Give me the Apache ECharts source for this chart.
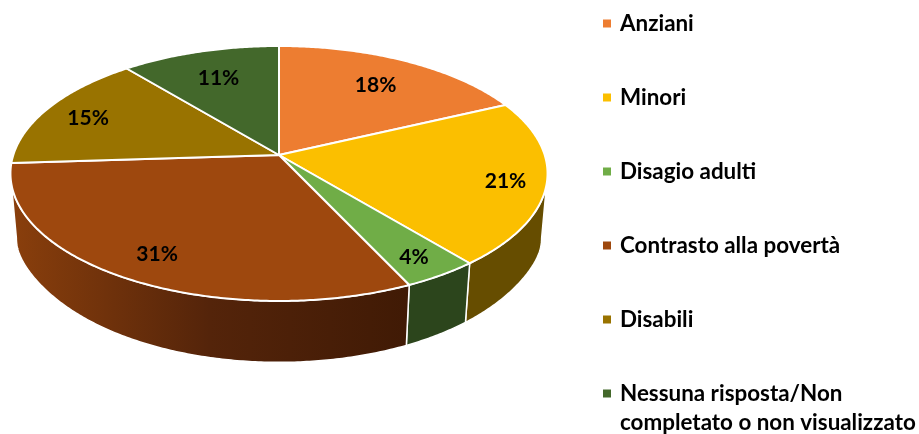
<!DOCTYPE html>
<html>
<head>
<meta charset="utf-8">
<style>
  html, body { margin: 0; padding: 0; background: #fff; }
  #main { width: 919px; height: 434px; }
</style>
<script src="https://cdn.jsdelivr.net/npm/echarts@6/dist/echarts.min.js"></script>
</head>
<body>
<div id="main"></div>
<script>
const categories = ["Anziani", "Minori", "Disagio adulti", "Contrasto alla povertà", "Disabili", "Nessuna risposta/Non completato o non visualizzato"];
const values = [18, 21, 4, 31, 15, 11];
const topColors = ["#ED7D31", "#FBBF00", "#70AD47", "#9E480E", "#997300", "#43682B"];
const sideColors = [["#8E4B1D"], ["#664D00"], ["#2C451C"], ["#8A3F0C", "#54240A", "#401A05"], ["#5C4500"], ["#28401A"]];
// where each percent label sits along its slice's middle (0 = centre, 1 = rim)
const labelRadius = [0.74, 0.85, 0.85, 0.81, 0.82, 0.74];

// perspective of the tilted disc
const cx = 279, cy = 155, scaleX = 265.7, scaleY = 124.8, persp = 0.145;
const thickness = 52.5, bottomShrink = 0.978, flankDrop = 13;
// the wall only shows between the two points where the rim turns back
const wallFrom = Math.acos(-persp), wallTo = Math.PI * 2 - wallFrom;

const total = values.reduce((a, b) => a + b, 0);

function project(theta, r) {
  const s = Math.sin(theta) * r, d = Math.cos(theta) * r;
  const w = 1 + persp * d;
  return [cx + scaleX * s / w, cy - scaleY * d / w];
}
function projectBottom(theta) {
  const p = project(theta, 1);
  const w = 1 + persp * Math.cos(theta);
  // the wall reaches a bit lower at the far left and right
  const flank = flankDrop * Math.pow(Math.sin(theta), 16);
  return [cx + (p[0] - cx) * bottomShrink, p[1] + thickness / w + flank];
}
function arcAngles(a0, a1) {
  const n = Math.max(2, Math.ceil((a1 - a0) / 0.01));
  const out = [];
  for (let i = 0; i <= n; i++) out.push(a0 + (a1 - a0) * i / n);
  return out;
}
function sideFill(stops) {
  if (stops.length === 1) return stops[0];
  return new echarts.graphic.LinearGradient(0, 0, 1, 0, stops.map((c, i) => ({
    offset: i / (stops.length - 1),
    color: c
  })));
}

function makeRenderItem(idx) {
  return function(params, api) {
    const before = values.slice(0, idx).reduce((a, b) => a + b, 0);
    const v = api.value(0);
    const a0 = before / total * Math.PI * 2;
    const a1 = (before + v) / total * Math.PI * 2;
    const rim = arcAngles(a0, a1).map(a => project(a, 1));
    const mid = project((a0 + a1) / 2, labelRadius[idx]);
    const children = [
      {
        type: "polygon",
        z2: 10,
        shape: { points: [[cx, cy]].concat(rim) },
        style: { fill: topColors[idx], stroke: "#fff", lineWidth: 2, lineJoin: "round" }
      },
      {
        type: "text",
        z2: 20,
        x: mid[0],
        y: mid[1] + 2,
        style: {
          text: v + "%",
          fill: "#000",
          font: "bold 21px Lato",
          align: "center",
          verticalAlign: "middle"
        }
      }
    ];
    const w0 = Math.max(a0, wallFrom), w1 = Math.min(a1, wallTo);
    if (w1 > w0) {
      const wallAngles = arcAngles(w0, w1);
      const wallTop = wallAngles.map(a => project(a, 1));
      const wallBottom = wallAngles.map(a => projectBottom(a)).reverse();
      children.push({
        type: "polygon",
        z2: 1,
        shape: { points: wallTop.concat(wallBottom) },
        style: { fill: sideFill(sideColors[idx]), stroke: "#fff", lineWidth: 1.5, lineJoin: "round" }
      });
    }
    return { type: "group", children: children };
  };
}

function legendPart(top, names) {
  return {
    orient: "vertical",
    left: 603,
    top: top,
    height: 600,
    padding: 0,
    itemGap: 45,
    itemWidth: 8,
    itemHeight: 8,
    icon: "rect",
    selectedMode: false,
    data: names,
    // two lines hang under the marker, so a blank first line keeps it level with the top one
    formatter: function(name) {
      return name.length > 30 ? "\n" + name.replace(" completato", "\ncompletato") : name;
    },
    textStyle: {
      color: "#000",
      fontFamily: "Lato",
      fontWeight: "bold",
      fontSize: 22.4,
      lineHeight: 29,
      padding: [0, 0, 0, 4]
    }
  };
}

const myChart = echarts.init(document.getElementById("main"), null, { renderer: "canvas" });
myChart.setOption({
  animation: false,
  color: topColors,
  legend: [legendPart(9, categories.slice(0, 5)), legendPart(350, categories.slice(5))],
  series: categories.map((name, i) => ({
    name: name,
    type: "custom",
    coordinateSystem: "none",
    silent: true,
    itemStyle: { color: topColors[i] },
    renderItem: makeRenderItem(i),
    data: [values[i]]
  }))
});
window.onresize = myChart.resize;
</script>
</body>
</html>
